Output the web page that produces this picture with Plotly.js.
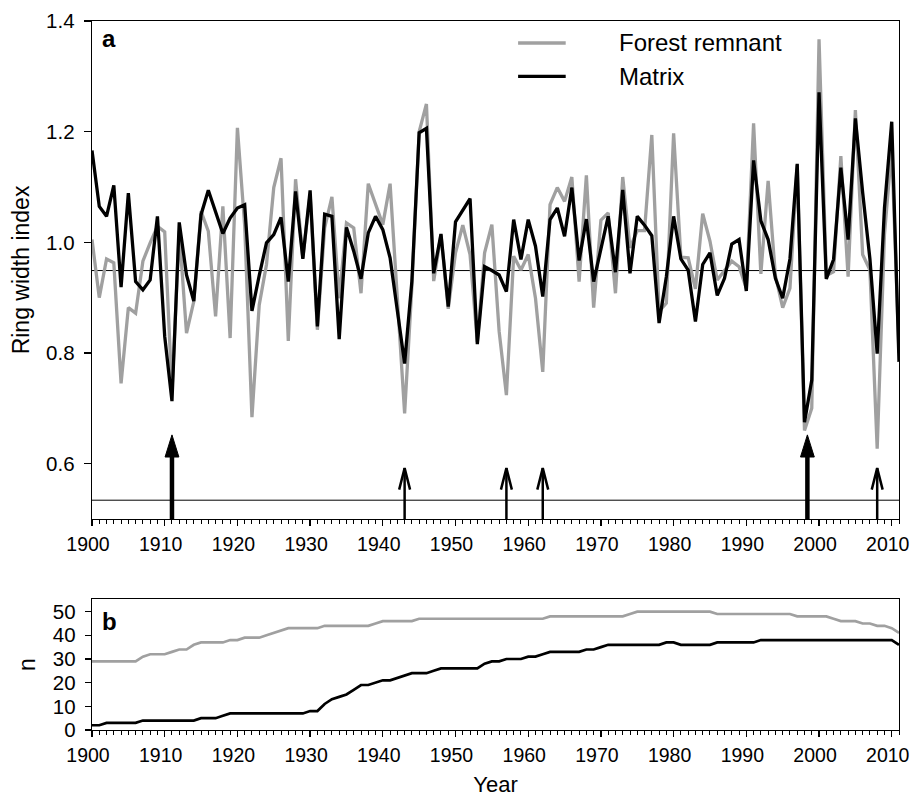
<!DOCTYPE html>
<html>
<head>
<meta charset="utf-8">
<script src="https://cdn.plot.ly/plotly-3.0.1.min.js"></script>
<style>html,body{margin:0;padding:0;background:#fff;}#chart{width:913px;height:800px;}</style>
</head>
<body>
<div id="chart"></div>
<script>
// ---------- DATA ----------
const years = [];
for (let y = 1900; y <= 2011; y++) years.push(y);

// Ring width index, Forest remnant (grey)
const forestRWI = [
 1.005,0.900,0.970,0.963,0.745,0.882,0.872,0.966,0.999,1.029,
 1.019,0.730,1.020,0.836,0.893,1.056,1.020,0.866,1.065,0.827,
 1.207,1.030,0.684,0.887,0.960,1.099,1.152,0.822,1.114,0.972,
 1.086,0.842,1.026,1.082,0.899,1.035,1.026,0.908,1.106,1.068,
 1.032,1.106,0.887,0.691,0.920,1.200,1.250,0.930,1.014,0.880,
 0.981,1.031,0.978,0.820,0.981,1.032,0.839,0.724,0.975,0.950,
 0.978,0.899,0.766,1.068,1.099,1.074,1.118,0.929,1.121,0.882,
 1.040,1.053,0.908,1.118,0.990,1.021,1.021,1.194,0.875,0.890,
 1.197,0.973,0.972,0.916,1.052,1.002,0.932,0.950,0.966,0.956,
 0.917,1.215,0.943,1.111,0.940,0.882,0.917,1.140,0.660,0.700,
 1.367,0.940,0.947,1.156,0.938,1.239,0.978,0.950,0.627,1.014,
 1.170,0.800
];

// Ring width index, Matrix (black)
const matrixRWI = [
 1.166,1.065,1.047,1.103,0.919,1.089,0.929,0.914,0.932,1.047,
 0.830,0.713,1.036,0.941,0.894,1.050,1.094,1.053,1.016,1.044,
 1.062,1.068,0.876,0.940,0.999,1.014,1.045,0.929,1.092,0.970,
 1.094,0.848,1.051,1.047,0.825,1.027,0.984,0.934,1.017,1.047,
 1.023,0.972,0.881,0.781,0.930,1.198,1.206,0.944,1.015,0.884,
 1.037,1.057,1.079,0.816,0.956,0.949,0.941,0.911,1.041,0.969,
 1.041,0.993,0.902,1.041,1.062,1.011,1.099,0.967,1.042,0.929,
 0.990,1.047,0.946,1.095,0.944,1.047,1.031,1.012,0.854,0.938,
 1.047,0.970,0.950,0.857,0.960,0.981,0.904,0.935,0.997,1.005,
 0.912,1.148,1.039,1.005,0.935,0.899,0.970,1.142,0.675,0.751,
 1.271,0.934,0.969,1.135,1.005,1.224,1.090,0.970,0.799,1.062,
 1.218,0.784
];

// Sample depth n
const forestN = [
 29,29,29,29,29,29,29,31,32,32,
 32,33,34,34,36,37,37,37,37,38,
 38,39,39,39,40,41,42,43,43,43,
 43,43,44,44,44,44,44,44,44,45,
 46,46,46,46,46,47,47,47,47,47,
 47,47,47,47,47,47,47,47,47,47,
 47,47,47,48,48,48,48,48,48,48,
 48,48,48,48,49,50,50,50,50,50,
 50,50,50,50,50,50,49,49,49,49,
 49,49,49,49,49,49,49,48,48,48,
 48,48,47,46,46,46,45,45,44,44,
 43,41
];
const matrixN = [
 2,2,3,3,3,3,3,4,4,4,
 4,4,4,4,4,5,5,5,6,7,
 7,7,7,7,7,7,7,7,7,7,
 8,8,11,13,14,15,17,19,19,20,
 21,21,22,23,24,24,24,25,26,26,
 26,26,26,26,28,29,29,30,30,30,
 31,31,32,33,33,33,33,33,34,34,
 35,36,36,36,36,36,36,36,36,37,
 37,36,36,36,36,36,37,37,37,37,
 37,37,38,38,38,38,38,38,38,38,
 38,38,38,38,38,38,38,38,38,38,
 38,36
];

// Reference lines and pointer-year arrows
const meanLine = 0.949;
const thresholdLine = 0.534;
const arrowYears = [1911, 1943, 1957, 1962, 1998.4, 2008];
const arrowThick = [true, false, false, false, true, false];
const seriesNames = ['Forest remnant', 'Matrix'];
const xTickVals = [1900,1910,1920,1930,1940,1950,1960,1970,1980,1990,2000,2010];

// ---------- STYLE ----------
const GREY = '#a0a0a0';
const COLORS = [GREY, '#000'];
const FONT = 'Liberation Sans, Arial, Helvetica, sans-serif';
const yBottom = 0.5;

const traces = [
  {x: years, y: forestRWI, type: 'scatter', mode: 'lines', name: seriesNames[0],
   line: {color: COLORS[0], width: 3.3}, xaxis: 'x', yaxis: 'y'},
  {x: years, y: matrixRWI, type: 'scatter', mode: 'lines', name: seriesNames[1],
   line: {color: COLORS[1], width: 3.3}, xaxis: 'x', yaxis: 'y'},
  {x: years, y: forestN, type: 'scatter', mode: 'lines', name: seriesNames[0],
   line: {color: COLORS[0], width: 2.7}, xaxis: 'x2', yaxis: 'y2'},
  {x: years, y: matrixN, type: 'scatter', mode: 'lines', name: seriesNames[1],
   line: {color: COLORS[1], width: 2.7}, xaxis: 'x2', yaxis: 'y2'}
];

const shapes = [
  {type: 'line', xref: 'x domain', yref: 'y', x0: 0, x1: 1, y0: meanLine, y1: meanLine,
   line: {color: '#000', width: 1}, layer: 'below'},
  {type: 'line', xref: 'x domain', yref: 'y', x0: 0, x1: 1, y0: thresholdLine, y1: thresholdLine,
   line: {color: '#000', width: 1}, layer: 'below'}
];
arrowYears.forEach((yr, i) => {
  const thick = arrowThick[i];
  const tip = thick ? 0.652 : 0.592;
  const headH = thick ? 0.040 : 0.039;
  const headW = thick ? 0.95 : 0.75;
  if (thick) {
    shapes.push({type: 'line', xref: 'x', yref: 'y', x0: yr, x1: yr, y0: yBottom, y1: tip - headH + 0.005,
      line: {color: '#000', width: 4.5}});
    shapes.push({type: 'path', xref: 'x', yref: 'y',
      path: `M ${yr - headW},${tip - headH} L ${yr},${tip} L ${yr + headW},${tip - headH} Z`,
      fillcolor: '#000', line: {color: '#000', width: 1}});
  } else {
    shapes.push({type: 'line', xref: 'x', yref: 'y', x0: yr, x1: yr, y0: yBottom, y1: tip,
      line: {color: '#000', width: 2.5}});
    shapes.push({type: 'path', xref: 'x', yref: 'y',
      path: `M ${yr - headW},${tip - headH} L ${yr},${tip} L ${yr + headW},${tip - headH}`,
      line: {color: '#000', width: 2.5}});
  }
});

// Legend (drawn manually to match the long gap between sample line and label)
const legendY = [0.969, 0.922];
const annotations = [
  {text: '<b>a</b>', xref: 'x domain', yref: 'y domain', x: 0.01, y: 0.995, xanchor: 'left', yanchor: 'top',
   showarrow: false, font: {family: FONT, size: 24, color: '#000'}},
  {text: '<b>b</b>', xref: 'x2 domain', yref: 'y2 domain', x: 0.01, y: 0.95, xanchor: 'left', yanchor: 'top',
   showarrow: false, font: {family: FONT, size: 24, color: '#000'}}
];
seriesNames.forEach((nm, i) => {
  shapes.push({type: 'line', xref: 'paper', yref: 'paper', x0: 0.528, x1: 0.587, y0: legendY[i], y1: legendY[i],
    line: {color: COLORS[i], width: 3.3}});
  annotations.push({text: nm, xref: 'paper', yref: 'paper', x: 0.6505, y: legendY[i], xanchor: 'left',
    yanchor: 'middle', showarrow: false, font: {family: FONT, size: 24, color: '#000'}});
});

const axisCommon = {
  showgrid: false, zeroline: false, showline: true, linecolor: '#000', linewidth: 1.3,
  mirror: true, ticks: 'outside', tickcolor: '#000', tickwidth: 1.3,
  tickfont: {family: FONT, size: 20.5, color: '#000'}
};
const xTickFont = {family: FONT, size: 19.5, color: '#000'};
const minorX = {dtick: 1, tick0: 1900, ticklen: 4, tickcolor: '#000', ticks: 'outside', tickwidth: 1};

const layout = {
  width: 913, height: 800,
  margin: {l: 92, r: 14, t: 21, b: 70},
  paper_bgcolor: '#fff', plot_bgcolor: '#fff',
  font: {family: FONT, color: '#000'},
  showlegend: false,
  xaxis: Object.assign({}, axisCommon, {
    domain: [0, 1], anchor: 'y', range: [1900, 2011], tickvals: xTickVals, ticklen: 6,
    tickfont: xTickFont, ticklabelstandoff: 1, ticklabelshift: -4, ticklabeloverflow: 'allow', minor: minorX
  }),
  yaxis: Object.assign({}, axisCommon, {
    domain: [0.2976, 1], anchor: 'x', range: [0.5, 1.4], tickvals: [0.6, 0.8, 1.0, 1.2, 1.4],
    tickformat: '.1f', ticklen: 7, ticklabelstandoff: 5,
    title: {text: 'Ring width index', font: {family: FONT, size: 23, color: '#000'}, standoff: 10}
  }),
  xaxis2: Object.assign({}, axisCommon, {
    domain: [0, 1], anchor: 'y2', range: [1900, 2011], tickvals: xTickVals, ticklen: 6,
    tickfont: xTickFont, ticklabelstandoff: 1, ticklabelshift: -4, ticklabeloverflow: 'allow', minor: minorX,
    title: {text: 'Year', font: {family: FONT, size: 22, color: '#000'}, standoff: 12}
  }),
  yaxis2: Object.assign({}, axisCommon, {
    domain: [0, 0.1843], anchor: 'x2', range: [0, 55.2], tickvals: [0, 10, 20, 30, 40, 50], ticklen: 6,
    ticklabelstandoff: 5,
    title: {text: 'n', font: {family: FONT, size: 23, color: '#000'}, standoff: 10}
  }),
  shapes: shapes,
  annotations: annotations
};

Plotly.newPlot('chart', traces, layout, {displayModeBar: false, staticPlot: true});
</script>
</body>
</html>
